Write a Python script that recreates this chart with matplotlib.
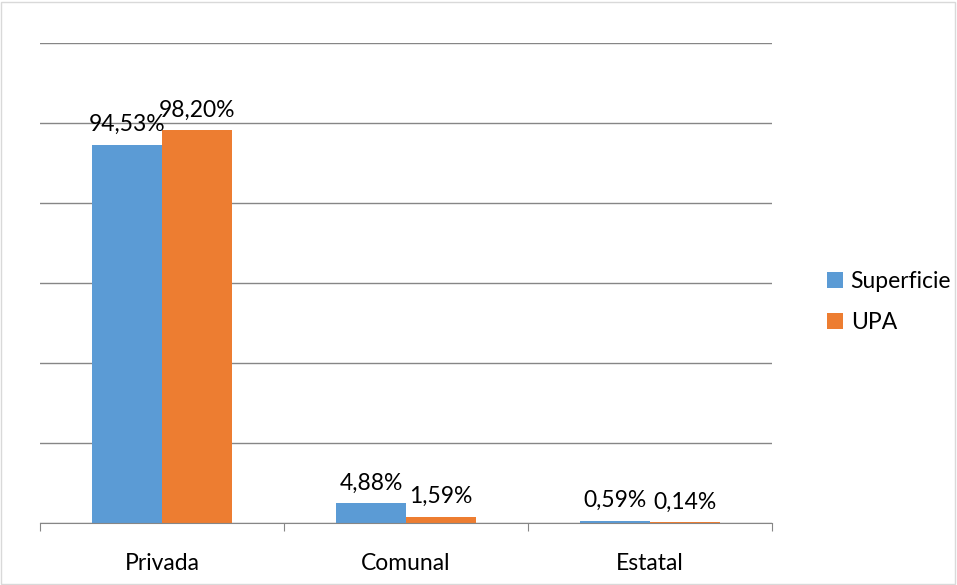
import matplotlib.pyplot as plt
import numpy as np
from matplotlib.patches import Rectangle

# Data
categories = ['Privada', 'Comunal', 'Estatal']
superficie = [94.53, 4.88, 0.59]
upa = [98.20, 1.59, 0.14]
series_names = ['Superficie', 'UPA']
colors = ['#5b9bd5', '#ed7d31']

plt.rcParams['font.family'] = ['Lato', 'DejaVu Sans']

fig = plt.figure(figsize=(9.57, 5.85), dpi=100)
ax = fig.add_axes([40 / 957, 62 / 585, 732 / 957, 480 / 585])

x = np.arange(len(categories))
w = 0.287
b1 = ax.bar(x - w / 2, superficie, w, color=colors[0], label=series_names[0], zorder=3)
b2 = ax.bar(x + w / 2, upa, w, color=colors[1], label=series_names[1], zorder=3)

for bars, vals in [(b1, superficie), (b2, upa)]:
    for r, v in zip(bars, vals):
        ax.annotate(f"{v:.2f}%".replace('.', ','), (r.get_x() + r.get_width() / 2, v),
                    xytext=(0, 7), textcoords='offset points', ha='center', va='bottom',
                    fontsize=16.5, color='#000000', zorder=4)

ax.set_xlim(-0.5, 2.5)
ax.set_ylim(0, 120)
ax.set_yticks(np.arange(0, 121, 20))
ax.tick_params(axis='y', left=False, labelleft=False)
ax.grid(axis='y', color='#868686', linewidth=1, zorder=0)
for s in ['top', 'right', 'left']:
    ax.spines[s].set_visible(False)
ax.spines['bottom'].set_color('#868686')
ax.spines['bottom'].set_zorder(5)

# category labels between boundary ticks
ax.set_xticks([-0.5, 0.5, 1.5, 2.5])
ax.set_xticklabels([])
ax.tick_params(axis='x', length=6, color='#868686', direction='out')
for xi, c in zip(x, categories):
    ax.text(xi, -10, c, ha='center', va='center', fontsize=16.5)

fig.legend(handles=[b1, b2], labels=series_names, loc='center left',
           bbox_to_anchor=(806 / 957, 1 - 302 / 585), frameon=False, fontsize=16.5,
           handlelength=0.7, handleheight=0.7, handletextpad=0.35, labelspacing=0.9)

fig.patches.append(Rectangle((1 / 957, 1 / 585), 954 / 957, 582 / 585, transform=fig.transFigure,
                             fill=False, edgecolor='#d9d9d9', linewidth=1))

plt.savefig('out.png', dpi=100)
